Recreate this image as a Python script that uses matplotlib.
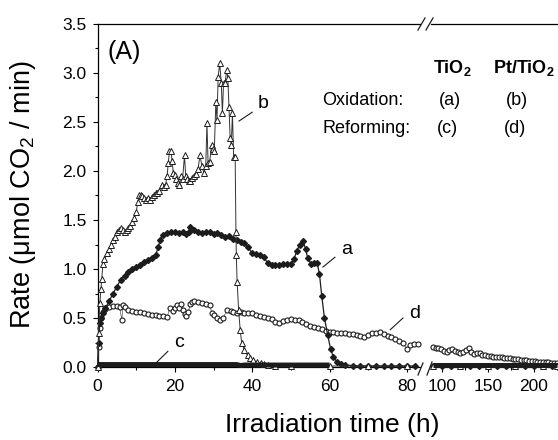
import matplotlib
matplotlib.use('Agg')
import numpy as np
import matplotlib.pyplot as plt
from matplotlib.lines import Line2D
from matplotlib.ticker import MultipleLocator, FixedLocator, FormatStrFormatter

plt.rcParams['font.family'] = ['Liberation Sans', 'DejaVu Sans']
plt.rcParams['mathtext.fontset'] = 'custom'
plt.rcParams['mathtext.rm'] = 'Liberation Sans'
plt.rcParams['mathtext.it'] = 'Liberation Sans:italic'
plt.rcParams['mathtext.bf'] = 'Liberation Sans:bold'

# ---------------- data ----------------
# (a) TiO2, oxidation
a_t = [0, 0.3, 0.6, 1, 1.5, 2, 3, 4, 5, 6, 7, 8, 9, 10, 11, 12, 13, 14, 15, 15.7,
       16.2, 17, 18, 19, 20, 21, 22, 23, 23.6, 24, 25, 26, 27, 28, 29, 30, 31, 32, 33, 34,
       35, 36, 37, 38, 39, 40, 41, 42, 43, 44, 45, 46, 47, 48, 49, 50, 50.8, 51.5, 52.3, 53.2,
       53.8, 54.4, 55.2, 56, 56.8, 57.4, 58, 58.7, 59.5, 60.3, 61, 62, 63, 64, 66, 68, 70, 72, 74, 76,
       78, 80, 82, 84, 90, 100, 110, 120, 130, 140, 150, 160, 170, 180, 190, 200, 210, 220, 225]
a_v = [0.0, 0.25, 0.45, 0.50, 0.55, 0.60, 0.67, 0.75, 0.82, 0.89, 0.93, 0.97, 1.00, 1.02, 1.04, 1.07, 1.09, 1.11, 1.14, 1.22,
       1.30, 1.35, 1.37, 1.38, 1.38, 1.37, 1.38, 1.36, 1.38, 1.43, 1.40, 1.38, 1.37, 1.38, 1.38, 1.36, 1.37, 1.35, 1.33, 1.34,
       1.31, 1.30, 1.28, 1.27, 1.22, 1.16, 1.15, 1.14, 1.12, 1.06, 1.04, 1.04, 1.04, 1.05, 1.05, 1.05, 1.10, 1.18, 1.25, 1.29,
       1.20, 1.11, 1.05, 1.06, 1.06, 0.95, 0.72, 0.50, 0.33, 0.18, 0.10, 0.05, 0.03, 0.02, 0.015, 0.01, 0.01, 0.01, 0.01, 0.01,
       0.01, 0.01, 0.01, 0.01, 0.01, 0.01, 0.01, 0.01, 0.01, 0.01, 0.01, 0.01, 0.01, 0.01, 0.01, 0.01, 0.01, 0.01, 0.01]

# (b) Pt/TiO2, oxidation
b_t = [0, 0.3, 0.6, 0.9, 1.1, 1.4, 1.8, 2.4, 3, 3.5, 4, 4.5, 5, 5.5, 6, 6.5, 7, 7.5, 8, 8.5,
       9, 9.5, 10, 10.4, 10.8, 11.2, 11.6, 12, 12.5, 13, 13.5, 14, 14.5, 15, 15.5, 16, 16.6, 17.2, 17.6, 18,
       18.3, 18.6, 19, 19.3, 19.6, 20, 20.4, 20.8, 21.2, 21.6, 22, 22.5, 22.8, 23.2, 23.6, 24, 24.5, 25, 25.5, 26,
       26.5, 27, 27.5, 28, 28.3, 28.6, 29, 29.5, 29.9, 30.2, 30.6, 30.9, 31.2, 31.6, 32, 32.3, 32.6, 33, 33.4, 33.7,
       34, 34.3, 34.6, 34.9, 35.2, 35.6, 35.8, 35.9, 36.1, 36.5, 36.9, 37.3, 38, 38.8, 39.5, 40.3, 41.2, 42.2, 43, 44,
       46, 50, 60, 70, 80, 84, 90, 120, 150, 180, 210, 225]
b_v = [0.0, 0.35, 0.65, 0.80, 0.90, 1.05, 1.10, 1.16, 1.20, 1.25, 1.30, 1.33, 1.38, 1.40, 1.42, 1.40, 1.38, 1.40, 1.42, 1.44,
       1.48, 1.52, 1.58, 1.68, 1.75, 1.76, 1.74, 1.72, 1.70, 1.72, 1.70, 1.73, 1.75, 1.78, 1.78, 1.80, 1.86, 1.84, 1.86, 1.95,
       2.08, 2.20, 2.20, 2.10, 1.98, 1.96, 1.92, 1.88, 1.86, 1.95, 1.92, 2.16, 1.95, 1.92, 1.90, 1.90, 1.93, 1.95, 1.97, 2.02,
       2.16, 2.05, 1.98, 2.05, 2.49, 2.08, 2.09, 2.27, 2.22, 2.20, 2.70, 2.52, 2.96, 3.10, 2.90, 2.59, 2.90, 2.90, 3.03, 2.95,
       2.65, 2.34, 2.27, 2.59, 2.14, 2.14, 1.38, 1.14, 0.87, 0.58, 0.38, 0.24, 0.17, 0.12, 0.09, 0.07, 0.05, 0.04, 0.03, 0.02,
       0.01, 0.01, 0.01, 0.01, 0.01, 0.01, 0.01, 0.01, 0.01, 0.01, 0.01, 0.01]

# (c) TiO2, reforming
c_t = [0, 20, 36, 37, 38, 60, 84, 90, 120, 150, 180, 210, 225]
c_v = [0.025, 0.025, 0.025, 0.015, 0.02, 0.02, 0.02, 0.02, 0.02, 0.02, 0.02, 0.02, 0.02]

# (d) Pt/TiO2, reforming
d_t = [0, 0.3, 0.6, 1, 1.5, 2, 3, 4, 5, 5.7, 6.3, 6.6, 7, 8, 9, 10, 11, 12, 13, 14,
       15, 16, 17, 18, 18.7, 19.5, 20, 20.5, 21, 21.5, 22, 22.5, 23, 23.5, 24, 24.5, 25, 26, 27, 28,
       29, 29.6, 30, 31, 31.7, 32.5, 33.5, 34.5, 35, 36, 37, 38, 39, 40, 41, 42, 43, 44, 45, 46,
       47, 48, 49, 50, 51, 52, 53, 54, 55, 56, 57, 58, 59, 60, 61, 62, 63, 64, 65, 66,
       67, 68, 69, 70, 71, 72, 73, 74, 75, 76, 77, 78, 79, 80, 80.8, 81.8, 82.8,
       87, 90, 93, 96, 99, 102, 105, 108, 111, 114, 117, 120, 123, 126, 129, 132, 135, 138, 141, 144,
       147, 150, 153, 156, 159, 162, 165, 168, 171, 174, 177, 180, 183, 186, 189, 192, 195, 198, 201, 204,
       207, 210, 213, 216, 219, 222, 225]
d_v = [0.0, 0.20, 0.40, 0.50, 0.56, 0.59, 0.61, 0.62, 0.62, 0.61, 0.48, 0.63, 0.61, 0.58, 0.57, 0.56, 0.56, 0.55, 0.54, 0.53,
       0.53, 0.52, 0.52, 0.51, 0.60, 0.57, 0.60, 0.63, 0.60, 0.64, 0.58, 0.54, 0.52, 0.56, 0.64, 0.66, 0.67, 0.66, 0.65, 0.64,
       0.63, 0.55, 0.53, 0.50, 0.48, 0.50, 0.58, 0.57, 0.56, 0.55, 0.56, 0.55, 0.55, 0.55, 0.53, 0.52, 0.51, 0.50, 0.49, 0.46,
       0.45, 0.47, 0.48, 0.49, 0.48, 0.48, 0.46, 0.44, 0.42, 0.41, 0.40, 0.39, 0.37, 0.36, 0.36, 0.35, 0.35, 0.35, 0.34, 0.34,
       0.33, 0.32, 0.31, 0.33, 0.35, 0.35, 0.36, 0.34, 0.32, 0.31, 0.29, 0.27, 0.25, 0.18, 0.22, 0.23, 0.23,
       0.22, 0.20, 0.19, 0.19, 0.18, 0.16, 0.15, 0.17, 0.18, 0.16, 0.15, 0.14, 0.15, 0.17, 0.19, 0.15, 0.13, 0.14, 0.14, 0.12,
       0.12, 0.11, 0.11, 0.10, 0.10, 0.10, 0.10, 0.09, 0.09, 0.09, 0.08, 0.08, 0.08, 0.07, 0.07, 0.07, 0.06, 0.06, 0.06, 0.05,
       0.05, 0.05, 0.05, 0.05, 0.04, 0.04, 0.04]

left_ticks = [0, 20, 40, 60, 80]
right_ticks = [100, 150, 200]
y_ticks = [0.0, 0.5, 1.0, 1.5, 2.0, 2.5, 3.0, 3.5]

# ---------------- figure ----------------
W, H = 558, 440
fig = plt.figure(figsize=(W / 100, H / 100), dpi=100)
x0, xb1, xb2, x3 = 97.5, 420, 431, 558
ybot, ytop = 367, 24
ax1 = fig.add_axes([x0 / W, (H - ybot) / H, (xb1 - x0) / W, (ybot - ytop) / H])
ax2 = fig.add_axes([xb2 / W, (H - ybot) / H, (x3 - xb2) / W, (ybot - ytop) / H])

xlim1 = (0, 83.4)
xlim2 = (88, 226.5)
col = '#1c1c1c'


def seg(t, v, lim):
    t = np.asarray(t, float)
    v = np.asarray(v, float)
    m = (t >= lim[0] - 1e-9) & (t <= lim[1] + 1e-9)
    return t[m], v[m]


for ax, lim in ((ax1, xlim1), (ax2, xlim2)):
    t, v = seg(d_t, d_v, lim)
    ax.plot(t, v, '-', color='#555555', lw=0.5, zorder=3, clip_on=False)
    ax.plot(t, v, 'o', ms=3.6, mfc='white', mec=col, mew=0.8, ls='none', zorder=3, clip_on=False)
    t, v = seg(a_t, a_v, lim)
    ax.plot(t, v, '-', color=col, lw=0.9, marker='D', ms=3.0, mfc=col, mec=col, zorder=4, clip_on=False)
    t, v = seg(b_t, b_v, lim)
    ax.plot(t, v, '-', color='#333333', lw=0.7, marker='^', ms=4.0, mfc='white', mec=col, mew=0.7,
            zorder=5, clip_on=False)
    t, v = seg(c_t, c_v, lim)
    ax.plot(t, v, '-', color=col, lw=3.6, solid_capstyle='butt', clip_on=False, zorder=6)
    ax.set_ylim(0, 3.5)
    ax.set_xlim(*lim)
    ax.spines['right'].set_visible(False)
    for s in ax.spines.values():
        s.set_linewidth(0.9)
    ax.tick_params(which='both', direction='out', top=False, right=False, width=0.8,
                   labelsize=12.5, pad=5)
    ax.tick_params(which='major', length=3.8)
    ax.tick_params(which='minor', length=2.4)
    ax.set_facecolor('none')

ax1.set_xticks(left_ticks)
ax1.xaxis.set_minor_locator(MultipleLocator(10))
ax1.set_yticks(y_ticks)
ax1.yaxis.set_minor_locator(MultipleLocator(0.25))
ax1.yaxis.set_major_formatter(FormatStrFormatter('%.1f'))
ax1.tick_params(axis='y', pad=4)

ax2.set_xticks(right_ticks)
ax2.xaxis.set_minor_locator(FixedLocator([125, 175, 225]))
ax2.spines['left'].set_visible(False)
ax2.tick_params(axis='y', which='both', left=False, labelleft=False)

# axis labels
fig.text(23 / W, 1 - 195 / H, 'Rate (μmol CO$_2$ / min)', rotation=90,
         ha='center', va='center', fontsize=19.5)
fig.text(332 / W, 1 - 425 / H, 'Irradiation time (h)', ha='center', va='center', fontsize=19)

# panel label
ax1.text(2.6, 3.21, '(A)', fontsize=18, ha='left', va='center')

# curve labels with leader lines
lab = dict(fontsize=14, ha='center', va='center')
ax1.text(42.8, 2.69, 'b', **lab)
ax1.plot([36.6, 40.0], [2.51, 2.60], color=col, lw=0.8)
ax1.text(64.3, 1.20, 'a', **lab)
ax1.plot([58.3, 61.4], [1.02, 1.12], color=col, lw=0.8)
ax1.text(81.9, 0.55, 'd', **lab)
ax1.plot([75.7, 79.0], [0.38, 0.50], color=col, lw=0.8)
ax1.text(21.1, 0.255, 'c', **lab)
ax1.plot([15.1, 18.2], [0.04, 0.16], color=col, lw=0.8)

# legend table
fs = 13
fig.text(433 / W, 1 - 73 / H, r'TiO$_\mathbf{2}$', fontweight='bold', fontsize=fs, va='baseline')
fig.text(493 / W, 1 - 73 / H, r'Pt/TiO$_\mathbf{2}$', fontweight='bold', fontsize=fs, va='baseline')
fig.text(322 / W, 1 - 105 / H, 'Oxidation:', fontsize=fs, va='baseline')
fig.text(322 / W, 1 - 133 / H, 'Reforming:', fontsize=fs, va='baseline')
fig.text(450 / W, 1 - 105 / H, '(a)', fontsize=fs, va='baseline', ha='center')
fig.text(517 / W, 1 - 105 / H, '(b)', fontsize=fs, va='baseline', ha='center')
fig.text(447 / W, 1 - 133 / H, '(c)', fontsize=fs, va='baseline', ha='center')
fig.text(515 / W, 1 - 133 / H, '(d)', fontsize=fs, va='baseline', ha='center')

# axis break marks
def slash(xa, ya, xb, yb):
    fig.add_artist(Line2D([xa / W, xb / W], [1 - ya / H, 1 - yb / H], color=col, lw=0.9,
                          transform=fig.transFigure))

slash(418, 30, 425, 18)
slash(426, 30, 433, 18)
slash(418, 375, 423, 363)
slash(427, 375, 432, 362)

fig.savefig('out.png', dpi=100)
